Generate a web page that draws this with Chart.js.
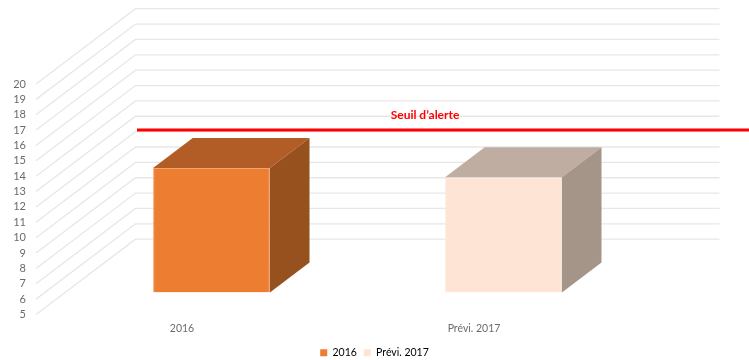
<!DOCTYPE html>
<html lang="fr">
<head>
<meta charset="utf-8">
<title>Seuil d'alerte</title>
<script src="https://cdn.jsdelivr.net/npm/chart.js@4/dist/chart.umd.min.js"></script>
<style>
    html, body { margin: 0; padding: 0; background: #fff; }
    canvas { display: block; }
</style>
</head>
<body>
<canvas id="myChart" width="749" height="360"></canvas>
<script>
const categories = ['2016', 'Prévi. 2017'];
const barValues = [13.1, 12.5];
const axisMin = 5;
const axisMax = 20;
const alertValue = 17;
const alertLabel = 'Seuil d’alerte';

const frontColors = ['#ED7D31', '#FDE4D5'];
const edgeColors = ['#F3A36E', '#FEEBDF'];
const topColors = ['#B25D25', '#BEADA0'];
const sideColors = ['#96511E', '#A59488'];

// Depth of the floor, and where the boxes start and end along it
const wallDx = 99.5;
const wallDy = 75.3;
const boxDx = 29.5;
const boxDy = 22;
const boxDepthDx = 39.6;
const boxDepthDy = 30;

const fakeDepth = {
    id: 'fakeDepth',
    beforeDatasetsDraw(chart) {
        const { ctx, chartArea, scales } = chart;
        ctx.save();
        ctx.strokeStyle = '#E7E7E7';
        ctx.lineWidth = 1.3;
        scales.y.ticks.forEach(tick => {
            const y = scales.y.getPixelForValue(tick.value);
            ctx.beginPath();
            ctx.moveTo(chartArea.left, y);
            ctx.lineTo(chartArea.left + wallDx, y - wallDy);
            ctx.lineTo(chartArea.right + wallDx, y - wallDy);
            ctx.stroke();
        });
        ctx.restore();
    },
    beforeDatasetDraw(chart) {
        chart.ctx.save();
        chart.ctx.translate(boxDx, -boxDy);
    },
    afterDatasetDraw(chart, args) {
        const ctx = chart.ctx;
        args.meta.data.forEach((bar, i) => {
            const right = bar.x + bar.width / 2;
            const left = bar.x - bar.width / 2;

            ctx.fillStyle = topColors[i];
            ctx.beginPath();
            ctx.moveTo(left, bar.y);
            ctx.lineTo(left + boxDepthDx, bar.y - boxDepthDy);
            ctx.lineTo(right + boxDepthDx, bar.y - boxDepthDy);
            ctx.lineTo(right, bar.y);
            ctx.closePath();
            ctx.fill();

            ctx.fillStyle = sideColors[i];
            ctx.beginPath();
            ctx.moveTo(right, bar.y);
            ctx.lineTo(right + boxDepthDx, bar.y - boxDepthDy);
            ctx.lineTo(right + boxDepthDx, bar.base - boxDepthDy);
            ctx.lineTo(right, bar.base);
            ctx.closePath();
            ctx.fill();
        });
        ctx.restore();
    },
    afterDatasetsDraw(chart) {
        const { ctx, width, scales } = chart;
        const y = scales.y.getPixelForValue(alertValue);
        ctx.save();
        ctx.strokeStyle = '#FF0000';
        ctx.lineWidth = 3;
        ctx.beginPath();
        ctx.moveTo(137, y);
        ctx.lineTo(width, y);
        ctx.stroke();

        ctx.fillStyle = '#FF0000';
        ctx.font = 'bold 12px Lato';
        ctx.textAlign = 'center';
        ctx.textBaseline = 'middle';
        ctx.fillText(alertLabel, 425, y - 15);
        ctx.restore();
    }
};

new Chart(document.getElementById('myChart').getContext('2d'), {
    type: 'bar',
    data: {
        labels: categories,
        datasets: [{
            data: barValues,
            base: axisMin,
            backgroundColor: frontColors,
            borderColor: edgeColors,
            borderWidth: 1,
            barPercentage: 0.4,
            categoryPercentage: 1
        }]
    },
    plugins: [fakeDepth],
    options: {
        responsive: false,
        animation: false,
        layout: { padding: { top: 84, right: 0, bottom: -8, left: 0 } },
        plugins: {
            tooltip: { enabled: false },
            legend: {
                position: 'bottom',
                labels: {
                    boxWidth: 7,
                    boxHeight: 7,
                    padding: 7,
                    color: '#6B6B6B',
                    font: { family: 'Lato', size: 10.5 },
                    generateLabels: () => categories.map((text, i) => ({
                        text,
                        fillStyle: frontColors[i],
                        strokeStyle: frontColors[i],
                        lineWidth: 0,
                        index: i
                    }))
                }
            }
        },
        scales: {
            x: {
                grid: { display: false },
                border: { display: false },
                afterFit(scale) { scale.height = 26; },
                ticks: {
                    padding: 0,
                    color: '#6B6B6B',
                    font: { family: 'Lato', size: 10.5 },
                    maxRotation: 0
                }
            },
            y: {
                min: axisMin,
                max: axisMax,
                grid: { display: false },
                border: { display: false },
                afterFit(scale) { scale.width = 36; },
                ticks: {
                    stepSize: 1,
                    autoSkip: false,
                    padding: 2,
                    color: '#6B6B6B',
                    font: { family: 'Lato', size: 11 }
                }
            },
            // empty axis that keeps the plot clear of the right margin
            rightGap: {
                type: 'linear',
                position: 'right',
                grid: { display: false },
                border: { display: false },
                ticks: { display: false },
                afterFit(scale) { scale.width = 129; }
            }
        }
    }
});
</script>
</body>
</html>
